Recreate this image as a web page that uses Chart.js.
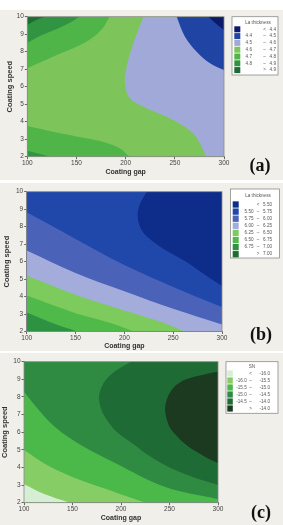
<!DOCTYPE html>
<html>
<head>
<meta charset="utf-8">
<script src="https://cdn.jsdelivr.net/npm/chart.js@4.4.0/dist/chart.umd.min.js"></script>
<style>
  html, body { margin: 0; padding: 0; background: #fff; }
  body { width: 283px; height: 525px; position: relative; overflow: hidden; }
  .panel { position: absolute; left: 0; width: 283px; background: #f0efea; }
  .panel canvas { position: absolute; left: 0; top: 0; }
  .tag { position: absolute; transform: translate(-50%, -50%); font: bold 18px "Liberation Serif", "Times New Roman", serif; color: #111; line-height: 1; }
</style>
</head>
<body>
<div class="panel" style="top:10px;height:170px">
  <canvas id="chartA" width="283" height="170"></canvas>
  <div class="tag" style="left:260px;top:155px">(a)</div>
</div>
<div class="panel" style="top:183px;height:168px">
  <canvas id="chartB" width="283" height="168"></canvas>
  <div class="tag" style="left:261px;top:150.5px">(b)</div>
</div>
<div class="panel" style="top:353px;height:172px">
  <canvas id="chartC" width="283" height="172"></canvas>
  <div class="tag" style="left:261px;top:158.5px">(c)</div>
</div>
<script>
// axis ticks shared by the three plots
var gapTicks = [100, 150, 200, 250, 300];
var speedTicks = [2, 3, 4, 5, 6, 7, 8, 9, 10];

// (a) contour levels and fill colours (low -> high)
var levelsA = [4.4, 4.5, 4.6, 4.7, 4.8, 4.9];
var coloursA = ["#0b1b6a", "#2044a4", "#a1a9d9", "#7dc55b", "#4fb548", "#319442", "#1d6d33"];
// contour lines, [coating gap, coating speed]
var a47top = [[100, 7.05], [126, 7.71], [160, 8.57], [176, 9.3], [183.5, 10]];
var a48top = [[100, 8.51], [115, 8.95], [130, 9.3], [143, 9.65], [153, 10]];
var a49top = [[100, 9.52], [108, 9.78], [117.8, 10]];
var a47low = [[100, 3.75], [126, 3.43], [160, 3.05], [180, 2.8], [194, 2.48], [204, 2]];
var a48low = [[100, 2.34], [112, 2.17], [123, 2]];
var a46 = [[281.7, 2], [277.3, 2.57], [268.8, 3.33], [248.5, 4.1], [221.4, 4.77], [204.4, 5.34], [199.3, 6.19], [201, 7.14], [207.8, 8.48], [218, 10]];
var a45 = [[251.9, 10], [260.3, 8.86], [272.2, 8.0], [285.8, 7.34], [300, 6.95]];
var a44 = [[284, 10], [292, 9.6], [300, 9.24]];

// (b)
var levelsB = [5.50, 5.75, 6.00, 6.25, 6.50, 6.75, 7.00];
var coloursB = ["#0e2d8b", "#1f48aa", "#4a63b9", "#a4acdc", "#7ccb5c", "#4fba4a", "#2d9342", "#1c6d32"];
var b575 = [[100, 8.82], [150, 7.3], [200, 5.8], [250, 4.55], [300, 3.4]];
var b600 = [[100, 6.63], [150, 5.35], [200, 4.3], [250, 3.3], [300, 2.4]];
var b625 = [[100, 5.2], [150, 4.1], [200, 3.2], [240, 2.5], [262, 2]];
var b650 = [[100, 4.06], [150, 3.05], [185, 2.5], [210, 2]];
var b675 = [[100, 3.09], [125, 2.52], [152, 2]];
var b550 = [[300, 4.6], [283.6, 5.2], [263, 6.0], [239, 6.77], [222, 7.5], [216, 8.0], [213.6, 8.67], [216, 9.3], [223, 10]];

// (c)
var levelsC = [-16.0, -15.5, -15.0, -14.5, -14.0];
var coloursC = ["#d6eed4", "#86cd66", "#4ab94a", "#2f8b41", "#1e6b35", "#1c3a1f"];
var c150 = [[100, 8.29], [111.3, 7.52], [132, 6.29], [159.5, 5.24], [194, 4.25], [245, 2.9], [300, 2.2]];
var c155 = [[100, 4.99], [125, 4.1], [160, 3.24], [194, 2.6], [225, 2]];
var c160 = [[100, 3.05], [121.6, 2.48], [147, 2]];
var c145 = [[300, 3.0], [272, 3.5], [245, 4.14], [228, 4.7], [214, 5.28], [196, 6.0], [188, 6.5], [182, 7.0], [178.5, 7.5], [177.3, 8.0], [179.5, 8.5], [185, 9.0], [195, 9.5], [210, 10]];
var c140 = [[300, 4.25], [287, 4.6], [269, 5.2], [254, 6.0], [248.5, 6.5], [245.5, 7.4], [251, 8.3], [263, 8.9], [280, 9.2], [300, 9.45]];

Chart.defaults.font.family = "'Liberation Sans', Arial, sans-serif";

// one filled region: y(x) curves fill to top/bottom, x(y) curves fill to the right edge
function layer(points, colour, side) {
    var alongY = side === "right";
    return {
        data: points.map(function (p) { return { x: p[0], y: p[1] }; }),
        indexAxis: alongY ? "y" : "x",
        fill: alongY ? { value: 300 } : side,
        backgroundColor: colour,
        borderWidth: 0,
        pointRadius: 0,
        tension: 0.35
    };
}

function legendRows(levels, colours, digits) {
    var rows = [];
    for (var i = 0; i < colours.length; i++) {
        if (i === 0) rows.push({ c: colours[i], lo: "", sep: "<", hi: levels[0].toFixed(digits) });
        else if (i === colours.length - 1) rows.push({ c: colours[i], lo: "", sep: ">", hi: levels[i - 1].toFixed(digits) });
        else rows.push({ c: colours[i], lo: levels[i - 1].toFixed(digits), sep: "\u2013", hi: levels[i].toFixed(digits) });
    }
    return rows;
}

var areaFill = {
    id: "areaFill",
    beforeDatasetsDraw: function (chart, args, o) {
        var a = chart.chartArea, ctx = chart.ctx;
        ctx.save();
        ctx.fillStyle = o.color;
        ctx.fillRect(a.left, a.top, a.right - a.left, a.bottom - a.top);
        ctx.restore();
    },
    afterDatasetsDraw: function (chart) {
        var a = chart.chartArea, ctx = chart.ctx;
        ctx.save();
        ctx.strokeStyle = "#8a8a8a";
        ctx.lineWidth = 0.8;
        ctx.strokeRect(a.left, a.top, a.right - a.left, a.bottom - a.top);
        ctx.restore();
    }
};

var boxLegend = {
    id: "boxLegend",
    afterDraw: function (chart, args, o) {
        var ctx = chart.ctx;
        ctx.save();
        ctx.fillStyle = "#ffffff";
        ctx.fillRect(o.left, o.top, o.width, o.height);
        ctx.strokeStyle = "#8c8c8c";
        ctx.lineWidth = 0.8;
        ctx.strokeRect(o.left, o.top, o.width, o.height);
        ctx.font = "4.6px 'Liberation Sans', Arial, sans-serif";
        ctx.textBaseline = "middle";
        ctx.fillStyle = "#555";
        ctx.textAlign = "center";
        ctx.fillText(o.title, o.titleX, o.titleY);
        o.rows.forEach(function (r, i) {
            var y = o.rowY + i * o.pitch;
            ctx.fillStyle = r.c;
            ctx.fillRect(o.swX, y - o.pitch / 2 + 0.4, o.swW, o.pitch - 0.8);
            ctx.fillStyle = "#555";
            ctx.textAlign = "right";
            if (r.lo) ctx.fillText(r.lo, o.loX, y);
            ctx.textAlign = "center";
            ctx.fillText(r.sep, o.sepX, y);
            ctx.textAlign = "right";
            ctx.fillText(r.hi, o.hiX, y);
        });
        ctx.restore();
    }
};

function makePlot(id, g, base, layers, legend) {
    var sets = layers.map(function (l, i) {
        var d = layer(l[0], l[1], l[2]);
        d.order = layers.length - i;
        return d;
    });
    return new Chart(id, {
        type: "line",
        data: { datasets: sets },
        plugins: [areaFill, boxLegend],
        options: {
            responsive: false,
            animation: false,
            layout: { padding: { top: g.top, right: g.right, left: 0, bottom: 0 } },
            plugins: {
                legend: { display: false },
                tooltip: { enabled: false },
                areaFill: { color: base },
                boxLegend: legend
            },
            scales: {
                x: {
                    type: "linear", min: 100, max: 300,
                    afterBuildTicks: function (s) { s.ticks = gapTicks.map(function (v) { return { value: v }; }); },
                    afterFit: function (s) { s.height = g.xH; },
                    ticks: { font: { size: 6.5 }, color: "#444", padding: 0.5, maxRotation: 0, autoSkip: false },
                    grid: { drawOnChartArea: false, tickLength: 2.5, color: "#666" },
                    border: { color: "#8a8a8a" },
                    title: { display: true, text: "Coating gap", color: "#333", font: { size: 7, weight: "bold" }, padding: { top: 0, bottom: g.xTitle } }
                },
                y: {
                    type: "linear", min: 2, max: 10,
                    afterBuildTicks: function (s) { s.ticks = speedTicks.map(function (v) { return { value: v }; }); },
                    afterFit: function (s) { s.width = g.yW; },
                    ticks: { font: { size: 6.5 }, color: "#444", padding: 1, autoSkip: false },
                    grid: { drawOnChartArea: false, tickLength: 2.5, color: "#666" },
                    border: { color: "#8a8a8a" },
                    title: { display: true, text: "Coating speed", color: "#333", font: { size: 7.5, weight: "bold" }, padding: { top: g.yTitle, bottom: 0 } }
                }
            }
        }
    });
}

makePlot("chartA",
    { top: 6.7, right: 59, yW: 27.3, xH: 23.3, xTitle: 3.8, yTitle: 5.8 },
    coloursA[3],
    [
        [a47top, coloursA[4], "end"],
        [a48top, coloursA[5], "end"],
        [a49top, coloursA[6], "end"],
        [a47low, coloursA[4], "start"],
        [a48low, coloursA[5], "start"],
        [a46, coloursA[2], "right"],
        [a45, coloursA[1], "end"],
        [a44, coloursA[0], "end"]
    ],
    { left: 232, top: 6.7, width: 46, height: 58.3, title: "La thickness", titleX: 258, titleY: 12.3,
      rowY: 19.3, pitch: 6.8, swX: 234.3, swW: 6, loX: 252, sepX: 264.5, hiX: 276,
      rows: legendRows(levelsA, coloursA, 1) });

makePlot("chartB",
    { top: 8.7, right: 61, yW: 26.7, xH: 19.5, xTitle: 0.8, yTitle: 2.8 },
    coloursB[1],
    [
        [b575, coloursB[2], "start"],
        [b600, coloursB[3], "start"],
        [b625, coloursB[4], "start"],
        [b650, coloursB[5], "start"],
        [b675, coloursB[6], "start"],
        [b550, coloursB[0], "right"]
    ],
    { left: 230.5, top: 6, width: 49, height: 69, title: "La thickness", titleX: 258, titleY: 13,
      rowY: 21.5, pitch: 7.1, swX: 232.7, swW: 6, loX: 253.5, sepX: 258, hiX: 272,
      rows: legendRows(levelsB, coloursB, 2) });

makePlot("chartC",
    { top: 8.7, right: 65, yW: 24, xH: 22.3, xTitle: 2.5, yTitle: 0.5 },
    coloursC[3],
    [
        [c150, coloursC[2], "start"],
        [c155, coloursC[1], "start"],
        [c160, coloursC[0], "start"],
        [c145, coloursC[4], "right"],
        [c140, coloursC[5], "right"]
    ],
    { left: 226, top: 8.7, width: 52, height: 51.6, title: "SN", titleX: 252, titleY: 13.7,
      rowY: 20.5, pitch: 7, swX: 227.3, swW: 5.5, loX: 246.7, sepX: 250.5, hiX: 270,
      rows: legendRows(levelsC, coloursC, 1) });
</script>
</body>
</html>
